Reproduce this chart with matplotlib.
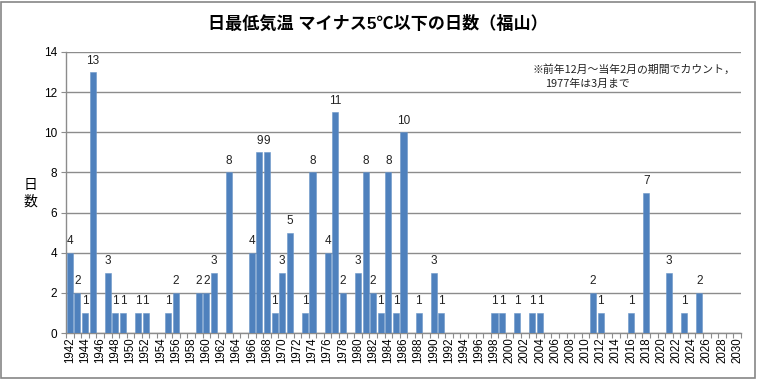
import numpy as np
import matplotlib
matplotlib.use("Agg")
import matplotlib.pyplot as plt
from matplotlib.patches import Rectangle

plt.rcParams['font.family'] = ['Liberation Sans', 'Noto Sans CJK JP', 'DejaVu Sans']

# ── data ──────────────────────────────────────────────────────────────────────
years = list(range(1942, 2031))
counts = {
    1942: 4, 1943: 2, 1944: 1, 1945: 13, 1947: 3, 1948: 1, 1949: 1,
    1951: 1, 1952: 1, 1955: 1, 1956: 2, 1959: 2, 1960: 2, 1961: 3,
    1963: 8, 1966: 4, 1967: 9, 1968: 9, 1969: 1, 1970: 3, 1971: 5,
    1973: 1, 1974: 8, 1976: 4, 1977: 11, 1978: 2, 1980: 3, 1981: 8,
    1982: 2, 1983: 1, 1984: 8, 1985: 1, 1986: 10, 1988: 1, 1990: 3,
    1991: 1, 1998: 1, 1999: 1, 2001: 1, 2003: 1, 2004: 1, 2011: 2,
    2012: 1, 2016: 1, 2018: 7, 2021: 3, 2023: 1, 2025: 2,
}
values = [counts.get(y, 0) for y in years]

title = "日最低気温 マイナス5℃以下の日数（福山）"
ylabel = "日\n数"
note1 = "※前年12月～当年2月の期間でカウント，"
note2 = "1977年は3月まで"

# ── figure ────────────────────────────────────────────────────────────────────
W, H = 757, 379
fig = plt.figure(figsize=(W / 100, H / 100), dpi=100)
ax = fig.add_axes([66 / W, 1 - 333 / H, (741 - 66) / W, (333 - 52) / H])

x = np.arange(len(years))
ax.bar(x, values, width=0.8, color="#4F81BD", edgecolor="#6C96C8",
       linewidth=0.4, zorder=3)

for xi, v in zip(x, values):
    if v > 0:
        ax.annotate(str(v), (xi, v), xytext=(0, 4), textcoords="offset points",
                    ha="center", va="bottom", fontsize=8.5, color="#222222")

ax.set_xlim(-0.5, len(years) - 0.5)
ax.set_ylim(0, 14)
ax.set_yticks(range(0, 15, 2))
ax.yaxis.grid(True, color="#8C8C8C", linewidth=1.0, zorder=0)
ax.set_axisbelow(True)

ax.set_xticks(x[::2])
ax.set_xticklabels([str(y) for y in years[::2]], rotation=90, fontsize=8.3)
ax.set_xticks(np.arange(-0.5, len(years), 1), minor=True)
ax.tick_params(axis="x", which="major", length=0, pad=3)
ax.tick_params(axis="x", which="minor", length=3.5, color="#8C8C8C", width=0.8)
ax.tick_params(axis="y", length=3.5, color="#8C8C8C", width=0.8,
               labelsize=8.5, pad=3)

for s in ("top", "right"):
    ax.spines[s].set_visible(False)
for s in ("left", "bottom"):
    ax.spines[s].set_color("#8C8C8C")
    ax.spines[s].set_linewidth(1.0)

fig.text(378 / W, 1 - 23 / H, title, ha="center", va="center",
         fontsize=12.3, fontweight="bold")
fig.text(30 / W, 1 - 193 / H, ylabel, ha="center", va="center",
         fontsize=10, linespacing=1.2, family=['Noto Sans CJK JP'])
fig.text(533 / W, 1 - 69 / H, note1, ha="left", va="center",
         fontsize=7.8, family=['Noto Sans CJK JP'], color="#222222")
fig.text(545 / W, 1 - 84 / H, note2, ha="left", va="center",
         fontsize=7.8, family=['Noto Sans CJK JP'], color="#222222")

fig.patches.append(Rectangle((1 / W, 1 / H), (W - 3) / W, (H - 3) / H,
                             transform=fig.transFigure, fill=False,
                             edgecolor="#868686", linewidth=1.2))

fig.savefig("out.png", dpi=100)
